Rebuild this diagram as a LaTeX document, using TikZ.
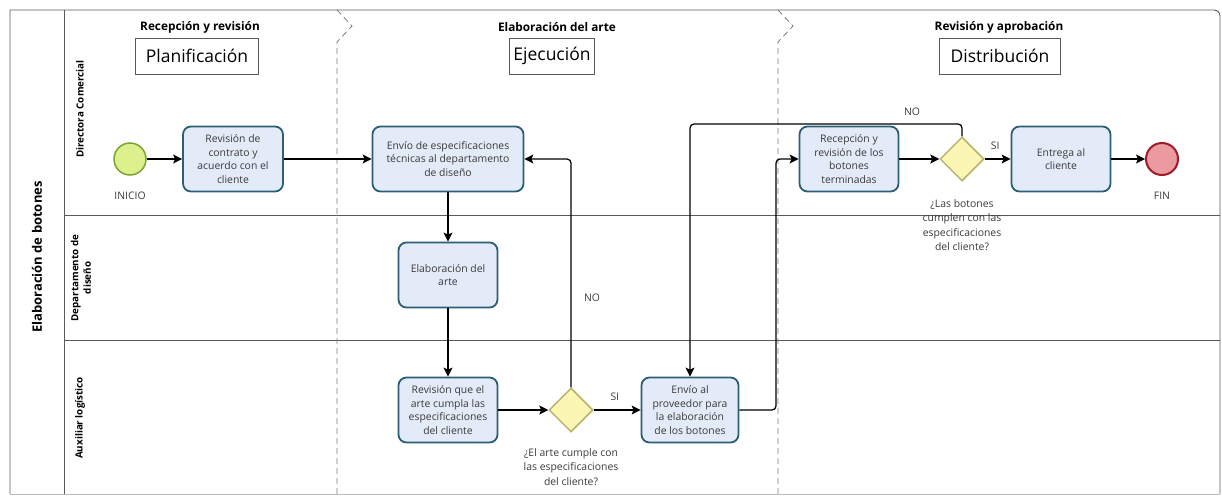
\documentclass[tikz,border=0pt]{standalone}
\usepackage{fontspec}
\setmainfont{Open Sans}
\usetikzlibrary{shapes.geometric,arrows.meta}

\definecolor{taskfill}{HTML}{E4EBF8}
\definecolor{taskline}{HTML}{2B5F74}
\definecolor{gwfill}{HTML}{FBF6B4}
\definecolor{gwline}{HTML}{B8B26A}
\definecolor{startfill}{HTML}{DCF08C}
\definecolor{startline}{HTML}{7FA436}
\definecolor{endfill}{HTML}{EB9AA0}
\definecolor{endline}{HTML}{9E1B27}
\definecolor{txt}{HTML}{3A3A3A}
\definecolor{frame}{HTML}{5A5A5A}

\begin{document}
\begin{tikzpicture}[x=1pt,y=-1pt,
  task/.style={draw=taskline, fill=taskfill, line width=1.8pt, rounded corners=8pt,
    align=center, text=txt, font=\fontsize{10.4}{13.6}\selectfont,
    minimum height=65pt, inner sep=1pt},
  gateway/.style={diamond, aspect=1, draw=gwline, fill=gwfill, line width=1.5pt,
    minimum width=44pt, minimum height=44pt, inner sep=0pt},
  startev/.style={circle, draw=startline, fill=startfill, line width=1.5pt,
    minimum size=32pt, inner sep=0pt},
  endev/.style={circle, draw=endline, fill=endfill, line width=2pt,
    minimum size=32pt, inner sep=0pt},
  flow/.style={draw=black, line width=1.25pt, rounded corners=4pt,
    -{Stealth[length=9pt,width=9pt,inset=2pt]}},
  lbl/.style={text=txt, font=\fontsize{10.4}{14.5}\selectfont, align=center},
  lanelbl/.style={rotate=90, font=\bfseries\fontsize{9.8}{12.5}\selectfont, align=center},
  phasetitle/.style={font=\bfseries\fontsize{11.8}{14}\selectfont},
  phasebox/.style={draw=frame, line width=0.9pt, minimum height=36pt,
    font=\fontsize{17.5}{20}\selectfont, inner sep=0pt},
  sep/.style={draw=frame!80, line width=0.8pt, dash pattern=on 6pt off 4pt},
  laneline/.style={draw=frame, line width=0.9pt}
]
\useasboundingbox (0,0) rectangle (1222,495);

% pool frame and lanes
\draw[laneline] (10,494) -- (10,10) -- (1214,10) arc[start angle=90,end angle=0,radius=6pt] -- (1220,494);
\draw[draw=frame!40, line width=0.8pt] (10,494) -- (1220,494);
\draw[laneline] (64,10) -- (64,494);
\draw[laneline] (64,215) -- (1220,215);
\draw[laneline] (64,340) -- (1220,340);

% pool and lane names
\node[rotate=90, font=\bfseries\fontsize{13}{15}\selectfont] (pool) at (37,257) {Elaboración de botones};
\node[lanelbl] (lane1) at (80,109) {Directora Comercial};
\node[lanelbl] (lane2) at (81,278) {Departamento de\\diseño};
\node[lanelbl] (lane3) at (80,418) {Auxiliar logístico};

% phase separators
\draw[sep] (337,10) -- (352,26) -- (337,42) -- (337,494);
\draw[sep] (778,10) -- (793,26) -- (778,42) -- (778,494);

% phase titles
\node[phasetitle] (ph1) at (200,27) {Recepción y revisión};
\node[phasetitle] (ph2) at (557,27) {Elaboración del arte};
\node[phasetitle] (ph3) at (999,27) {Revisión y aprobación};
\node[phasebox, minimum width=123pt] (pb1) at (197,56) {Planificación};
\node[phasebox, minimum width=85pt] (pb2) at (552,56) {Ejecución};
\node[phasebox, minimum width=121pt] (pb3) at (1000,56) {Distribución};

% events, tasks and gateways
\node[startev] (start) at (130,159) {};
\node[lbl] (startlbl) at (130,196) {INICIO};
\node[task, minimum width=100pt] (t1) at (233,159) {Revisión de\\contrato y\\acuerdo con el\\cliente};
\node[task, minimum width=151pt] (t2) at (448,159) {Envío de especificaciones\\técnicas al departamento\\de diseño};
\node[task, minimum width=99pt] (t3) at (448,275) {Elaboración del\\arte};
\node[task, minimum width=99pt] (t4) at (448,410) {Revisión que el\\arte cumpla las\\especificaciones\\del cliente};
\node[gateway] (g1) at (571,410) {};
\node[lbl] (g1lbl) at (571,467) {¿El arte cumple con\\las especificaciones\\del cliente?};
\node[task, minimum width=97pt] (t5) at (690,410) {Envío al\\proveedor para\\la elaboración\\de los botones};
\node[task, minimum width=99pt] (t6) at (849,159) {Recepción y\\revisión de los\\botones\\terminadas};
\node[gateway] (g2) at (962,159) {};
\node[lbl] (g2lbl) at (962,225) {¿Las botones\\cumplen con las\\especificaciones\\del cliente?};
\node[task, minimum width=99pt] (t7) at (1061,159) {Entrega al\\cliente};
\node[endev] (end) at (1162,159) {};
\node[lbl] (endlbl) at (1162,196) {FIN};

% bend points
\coordinate (b1) at (776,410);
\coordinate (b2) at (962,124);

% sequence flows
\draw[flow] (start) -- (t1);
\draw[flow] (t1) -- (t2);
\draw[flow] (t2) -- (t3);
\draw[flow] (t3) -- (t4);
\draw[flow] (t4) -- (g1);
\draw[flow] (g1) -- node[lbl, above=5pt, pos=0.45] (si1) {SI} (t5);
\draw[flow] (g1.north) |- (t2.east);
\node[lbl] (no1) at (592,298) {NO};
\draw[flow] (t5.east) -- (b1) |- (t6.west);
\draw[flow] (t6) -- (g2);
\draw[flow] (g2) -- node[lbl, above=5pt, pos=0.4] (si2) {SI} (t7);
\draw[flow] (g2.north) -- (b2) -| (t5.north);
\node[lbl] (no2) at (912,112) {NO};
\draw[flow] (t7) -- (end);
\end{tikzpicture}
\end{document}
